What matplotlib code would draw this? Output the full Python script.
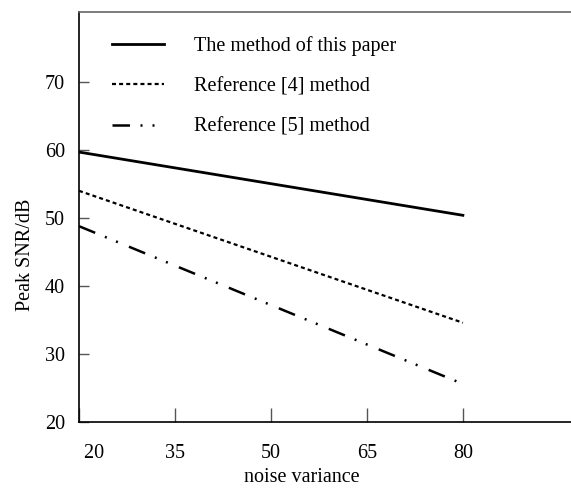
import matplotlib
matplotlib.use("Agg")
import matplotlib.pyplot as plt

# values
noise_variance = [20, 80]
snr_this_paper = [59.7, 50.4]
snr_ref4 = [54.0, 34.6]
snr_ref5 = [48.8, 25.6]

labels = ["The method of this paper", "Reference [4] method", "Reference [5] method"]
x_ticks = [20, 35, 50, 65, 80]
y_ticks = [20, 30, 40, 50, 60, 70]

plt.rcParams["font.family"] = ["Liberation Serif", "DejaVu Serif"]
plt.rcParams["font.size"] = 14.5

fig = plt.figure(figsize=(5.71, 4.90), dpi=100)
ax = fig.add_axes([79 / 571, 68 / 490, 1 - 79 / 571, 410 / 490])

ax.plot(noise_variance, snr_this_paper, color="black", lw=2.0, label=labels[0])
ax.plot(noise_variance, snr_ref4, color="black", lw=1.6, dashes=(1.8, 1.4), label=labels[1])
ax.plot(noise_variance, snr_ref5, color="black", lw=1.8,
        dashes=(7, 4.2, 0.8, 4.0, 0.8, 4.8), label=labels[2])

ax.set_xlim(20, 96.9)
ax.set_ylim(20, 80.3)
ax.set_xticks(x_ticks)
ax.set_yticks(y_ticks)
ax.spines["right"].set_visible(False)
for side in ("left", "bottom", "top"):
    ax.spines[side].set_linewidth(1.2)
ax.spines["top"].set_color("#666666")

ax.tick_params(axis="x", direction="in", length=10, width=1, color="#555555", pad=16)
ax.tick_params(axis="y", direction="in", length=7, width=1, color="#555555", pad=10)
# the first label sits a little right of the axis corner in the original
ax.set_xticklabels([" 20"] + [str(v) for v in x_ticks[1:]])
ax.get_xticklabels()[0].set_horizontalalignment("left")

ax.set_xlabel("noise variance")
ax.set_ylabel("Peak SNR/dB")
ax.xaxis.set_label_coords(0.453, -0.112)
ax.yaxis.set_label_coords(-0.09, 0.407)

ax.legend(loc="upper left", bbox_to_anchor=(0.03, 0.985), frameon=False,
          handlelength=2.6, handletextpad=1.5, labelspacing=1.05, fontsize=14.5)

fig.savefig("out.png", dpi=100)
